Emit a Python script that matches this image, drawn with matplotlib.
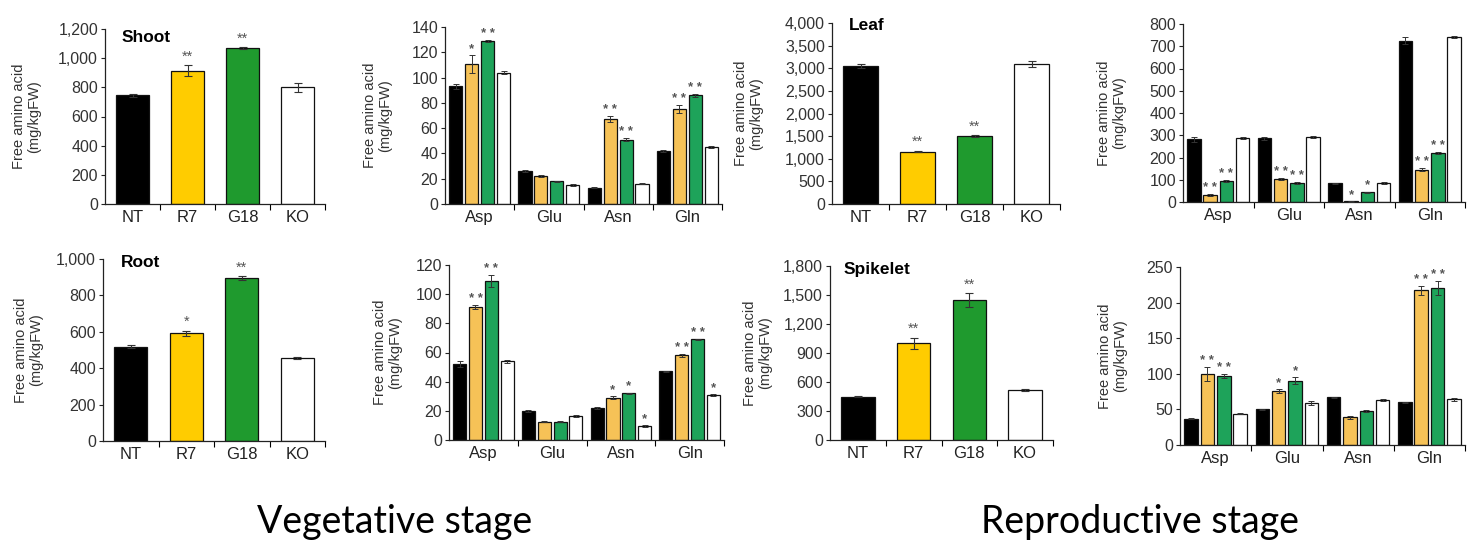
import matplotlib
matplotlib.use("Agg")
import matplotlib.pyplot as plt
import numpy as np

plt.rcParams['font.family'] = ['Liberation Sans', 'DejaVu Sans']

genotypes = ["NT", "R7", "G18", "KO"]
amino_acids = ["Asp", "Glu", "Asn", "Gln"]

# ---------------- data ----------------
shoot_vals = [745, 915, 1070, 800]
shoot_err = [8, 35, 8, 30]
shoot_sig = ["", "**", "**", ""]

veg_shoot_aa = {  # values per genotype over Asp, Glu, Asn, Gln
    "NT": [93, 26, 13, 42],
    "R7": [111, 22, 67, 75],
    "G18": [129, 18, 51, 86],
    "KO": [104, 15, 16, 45],
}
veg_shoot_aa_err = {
    "NT": [2, 0.6, 0.5, 1],
    "R7": [7, 0.8, 2.5, 3],
    "G18": [1, 0.5, 1, 1],
    "KO": [1, 0.5, 0.5, 1],
}
veg_shoot_aa_sig = {
    "NT": ["", "", "", ""],
    "R7": ["*", "", "**", "**"],
    "G18": ["**", "", "**", "**"],
    "KO": ["", "", "", ""],
}

leaf_vals = [3050, 1160, 1505, 3090]
leaf_err = [40, 20, 20, 70]
leaf_sig = ["", "**", "**", ""]

rep_leaf_aa = {
    "NT": [281, 286, 84, 725],
    "R7": [30, 102, 3, 146],
    "G18": [95, 87, 44, 221],
    "KO": [289, 293, 86, 740],
}
rep_leaf_aa_err = {
    "NT": [10, 8, 3, 15],
    "R7": [4, 5, 1, 5],
    "G18": [5, 5, 3, 5],
    "KO": [4, 4, 3, 4],
}
rep_leaf_aa_sig = {
    "NT": ["", "", "", ""],
    "R7": ["**", "**", "*", "**"],
    "G18": ["**", "**", "*", "**"],
    "KO": ["", "", "", ""],
}

root_vals = [518, 592, 897, 454]
root_err = [8, 15, 10, 5]
root_sig = ["", "*", "**", ""]

veg_root_aa = {
    "NT": [52, 20, 22, 47],
    "R7": [91, 12.5, 29, 58],
    "G18": [109, 12.5, 32, 69],
    "KO": [54, 16.5, 9.5, 31],
}
veg_root_aa_err = {
    "NT": [2, 0.5, 0.5, 0.5],
    "R7": [1.5, 0.3, 1, 1],
    "G18": [4, 0.3, 0.5, 0.5],
    "KO": [1, 0.5, 0.5, 0.5],
}
veg_root_aa_sig = {
    "NT": ["", "", "", ""],
    "R7": ["**", "", "*", "**"],
    "G18": ["**", "", "*", "**"],
    "KO": ["", "", "*", "*"],
}

spikelet_vals = [450, 1000, 1450, 515]
spikelet_err = [10, 60, 70, 10]
spikelet_sig = ["", "**", "**", ""]

rep_spk_aa = {
    "NT": [37, 50, 67, 60],
    "R7": [100, 76, 39, 217],
    "G18": [97, 90, 48, 221],
    "KO": [44, 59, 63, 64],
}
rep_spk_aa_err = {
    "NT": [1, 1, 1, 1],
    "R7": [10, 3, 2, 7],
    "G18": [3, 5, 1, 10],
    "KO": [1, 3, 1, 2],
}
rep_spk_aa_sig = {
    "NT": ["", "", "", ""],
    "R7": ["**", "*", "", "**"],
    "G18": ["**", "*", "", "**"],
    "KO": ["", "", "", ""],
}

# ---------------- style ----------------
W, H = 1475, 542
fig = plt.figure(figsize=(W / 100, H / 100), dpi=100)
fig.patch.set_facecolor("white")

simple_colors = ["#000000", "#FFCC00", "#1F9A2E", "#FFFFFF"]
aa_colors = ["#000000", "#F6C257", "#1EA35A", "#FFFFFF"]
star_color = "#555555"


def px_axes(x0, y0, x1, y1):
    return fig.add_axes([x0 / W, 1 - y1 / H, (x1 - x0) / W, (y1 - y0) / H])


def style_axes(ax, ymax, yticks, fmt_comma, label_px, x0, x1):
    ax.set_ylim(0, ymax)
    ax.set_xlim(-0.5, 3.5)
    ax.set_yticks(yticks)
    if fmt_comma:
        ax.set_yticklabels([f"{t:,}" for t in yticks])
    else:
        ax.set_yticklabels([f"{t}" for t in yticks])
    for s in ["top", "right"]:
        ax.spines[s].set_visible(False)
    for s in ["left", "bottom"]:
        ax.spines[s].set_linewidth(0.9)
        ax.spines[s].set_color("#222222")
    ax.tick_params(axis="y", direction="out", length=3, width=0.8,
                   labelsize=11.5, colors="#222222", labelcolor="#333333", pad=2)
    ax.tick_params(axis="x", which="major", length=0, labelsize=12,
                   labelcolor="#222222", pad=4)
    ax.set_xticks([0.5, 1.5, 2.5, 3.5], minor=True)
    ax.tick_params(axis="x", which="minor", direction="out", length=4, width=0.8)
    ax.set_ylabel("Free amino acid\n(mg/kgFW)", fontsize=10.5, color="#333333",
                  linespacing=1.1)
    ax.yaxis.set_label_coords((label_px - x0) / (x1 - x0), 0.5)


def simple_panel(rect, vals, err, sig, ymax, yticks, title, title_xy, label_px):
    ax = px_axes(*rect)
    x = np.arange(len(genotypes))
    ax.bar(x, vals, width=0.6, color=simple_colors, edgecolor="#111111",
           linewidth=0.9, zorder=2)
    ax.errorbar(x, vals, yerr=err, fmt="none", ecolor="#333333",
                elinewidth=0.8, capsize=3, capthick=0.8, zorder=3)
    for xi, v, e, s in zip(x, vals, err, sig):
        if s:
            ax.annotate(s, (xi, v + e), xytext=(0, 1), textcoords="offset points",
                        ha="center", va="bottom", fontsize=10.5, color=star_color)
    ax.set_xticks(x)
    ax.set_xticklabels(genotypes)
    style_axes(ax, ymax, yticks, True, label_px, rect[0], rect[2])
    ax.text(title_xy[0], title_xy[1], title, transform=ax.transAxes,
            fontsize=12.5, fontweight="bold", ha="left", va="center")
    return ax


def aa_panel(rect, data, err, sig, ymax, yticks, label_px):
    ax = px_axes(*rect)
    x = np.arange(len(amino_acids))
    bw = 0.19
    step = 0.23
    for i, g in enumerate(genotypes):
        xs = x + (i - 1.5) * step
        ax.bar(xs, data[g], width=bw, color=aa_colors[i], edgecolor="#111111",
               linewidth=0.9, zorder=2)
        ax.errorbar(xs, data[g], yerr=err[g], fmt="none", ecolor="#333333",
                    elinewidth=0.7, capsize=2, capthick=0.7, zorder=3)
        for xi, v, e, s in zip(xs, data[g], err[g], sig[g]):
            if s:
                ax.annotate(" ".join(s), (xi, v + e), xytext=(0, 0),
                            textcoords="offset points", ha="center", va="bottom",
                            fontsize=9.5, color=star_color, fontweight="bold")
    ax.set_xticks(x)
    ax.set_xticklabels(amino_acids)
    style_axes(ax, ymax, yticks, False, label_px, rect[0], rect[2])
    return ax


# top row
simple_panel((105, 29, 325, 204), shoot_vals, shoot_err, shoot_sig, 1200,
             list(range(0, 1201, 200)), "Shoot", (0.075, 0.95), 41)
aa_panel((445, 27, 722, 204), veg_shoot_aa, veg_shoot_aa_err, veg_shoot_aa_sig,
         140, list(range(0, 141, 20)), 392)
simple_panel((832, 23, 1060, 204), leaf_vals, leaf_err, leaf_sig, 4000,
             list(range(0, 4001, 500)), "Leaf", (0.075, 0.985), 763)
aa_panel((1183, 24, 1465, 202), rep_leaf_aa, rep_leaf_aa_err, rep_leaf_aa_sig,
         800, list(range(0, 801, 100)), 1126)

# bottom row
simple_panel((103, 259, 325, 441), root_vals, root_err, root_sig, 1000,
             list(range(0, 1001, 200)), "Root", (0.08, 0.98), 43)
aa_panel((449, 265, 724, 440), veg_root_aa, veg_root_aa_err, veg_root_aa_sig,
         120, list(range(0, 121, 20)), 402)
simple_panel((830, 266, 1053, 440), spikelet_vals, spikelet_err, spikelet_sig,
             1800, list(range(0, 1801, 300)), "Spikelet", (0.062, 0.98), 772)
aa_panel((1180, 267, 1465, 445), rep_spk_aa, rep_spk_aa_err, rep_spk_aa_sig,
         250, list(range(0, 251, 50)), 1127)

fig.text(395 / W, 1 - 522 / H, "Vegetative stage", fontsize=27,
         family=["Lato", "DejaVu Sans"], ha="center", va="center")
fig.text(1140 / W, 1 - 522 / H, "Reproductive stage", fontsize=27,
         family=["Lato", "DejaVu Sans"], ha="center", va="center")

fig.savefig("out.png", dpi=100, facecolor="white")
